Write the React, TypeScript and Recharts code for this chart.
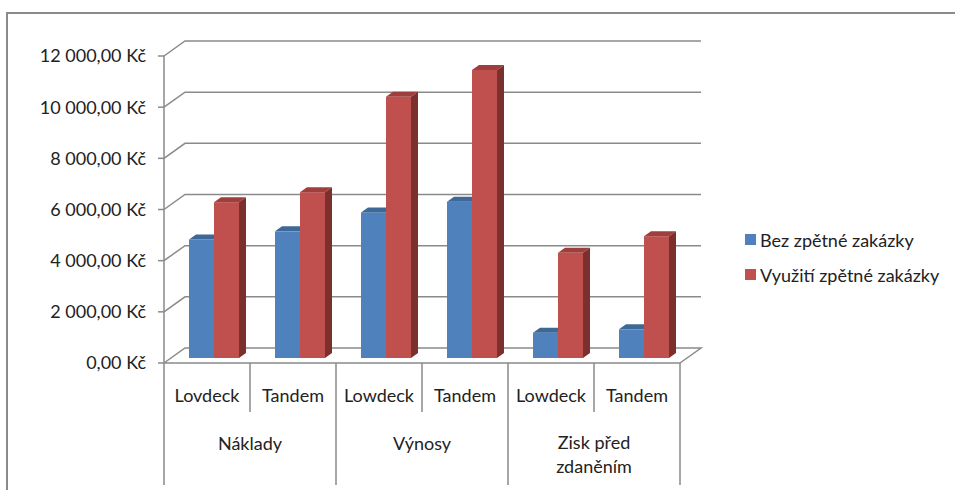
import React from 'react';
import { BarChart, Bar, XAxis, YAxis, CartesianGrid } from 'recharts';

// Subcategories (lower row of the category axis) and their groups (upper row)
const categories = ['Lovdeck', 'Tandem', 'Lowdeck', 'Tandem', 'Lowdeck', 'Tandem'];
const groups = [['Náklady'], ['Výnosy'], ['Zisk před', 'zdaněním']];

// Values (Kč)
const bezValues = [4630, 4950, 5690, 6110, 990, 1120];
const vyuzitiValues = [6090, 6480, 10210, 11260, 4110, 4760];
const yTicks = [0, 2000, 4000, 6000, 8000, 10000, 12000];

const seriesNames = ['Bez zpětné zakázky', 'Využití zpětné zakázky'];

const data = categories.map((name, i) => ({
  id: i,
  name,
  bez: bezValues[i],
  vyuziti: vyuzitiValues[i],
}));

const W = 955;
const H = 490;
const plotLeft = 164;
const plotRight = 680;
const plotTop = 56;
const plotBottom = 363;
const band = (plotRight - plotLeft) / categories.length;

// 3D offsets
const wallDx = 21;
const wallDy = 15;
const barDx = 7;
const barDy = 5;

const gridColor = '#8a8a8a';
const textColor = '#222';
const font = 'Lato, "Noto Sans", sans-serif';

const colors = {
  blue: { front: '#4f81bd', top: '#3e6897', side: '#385d8a' },
  red: { front: '#c0504d', top: '#9e3f3c', side: '#7c302e' },
};

const formatKc = (v: number) => {
  const s = Math.round(v).toString().replace(/\B(?=(\d{3})+(?!\d))/g, ' ');
  return `${s},00 Kč`;
};

const makeShape = (c: { front: string; top: string; side: string }) => (props: any) => {
  const { x, y, width, height } = props;
  if (!height || height <= 0) return <g />;
  const fx = x + barDx;
  const fy = y - barDy;
  const top = `${fx},${fy} ${fx + barDx},${fy - barDy} ${fx + width + barDx},${fy - barDy} ${fx + width},${fy}`;
  const side = `${fx + width},${fy} ${fx + width + barDx},${fy - barDy} ${fx + width + barDx},${fy + height - barDy} ${fx + width},${fy + height}`;
  return (
    <g>
      <rect x={fx} y={fy} width={width} height={height} fill={c.front} />
      <polygon points={top} fill={c.top} />
      <polygon points={side} fill={c.side} />
    </g>
  );
};

const gridLine = (props: any) => {
  const { x1, x2, y1 } = props;
  let d = `M${x1},${y1} L${x1 + wallDx},${y1 - wallDy} L${x2 + wallDx},${y1 - wallDy}`;
  if (Math.abs(y1 - plotBottom) < 1) d += ` L${x2},${y1}`;
  return <path key={`g-${y1}`} d={d} fill="none" stroke={gridColor} strokeWidth={1.5} />;
};

const CategoryTick = (props: any) => {
  const { x, index } = props;
  const left = x - band / 2;
  const isGroupStart = index % 2 === 0;
  const last = index === categories.length - 1;
  const g = groups[Math.floor(index / 2)];
  return (
    <g>
      <line x1={left} y1={plotBottom} x2={left} y2={isGroupStart ? 485 : 412} stroke={gridColor} strokeWidth={1.5} />
      {last && <line x1={left + band} y1={plotBottom} x2={left + band} y2={485} stroke={gridColor} strokeWidth={1.5} />}
      <text x={x} y={396} dy="0.35em" textAnchor="middle" fill={textColor} fontSize={18} fontFamily={font}>
        {categories[index]}
      </text>
      {isGroupStart &&
        g.map((line, k) => (
          <text
            key={k}
            x={left + band}
            y={g.length === 1 ? 444 : 443 + k * 24}
            dy="0.35em"
            textAnchor="middle"
            fill={textColor}
            fontSize={18}
            fontFamily={font}
          >
            {line}
          </text>
        ))}
    </g>
  );
};

const LegendBox = () => (
  <div style={{ position: 'absolute', left: 745, top: 222, fontFamily: font, fontSize: 18, color: textColor }}>
    {seriesNames.map((n, i) => (
      <div key={n} style={{ display: 'flex', alignItems: 'center', height: 35, whiteSpace: 'nowrap' }}>
        <span
          style={{
            display: 'inline-block',
            width: 11,
            height: 11,
            background: i === 0 ? colors.blue.front : colors.red.front,
            marginRight: 4,
          }}
        />
        <span>{n}</span>
      </div>
    ))}
  </div>
);

const App: React.FC = () => {
  return (
    <div style={{ position: 'absolute', left: 0, top: 0, width: W, height: H, overflow: 'hidden', background: '#fff' }}>
      <div
        style={{
          position: 'absolute',
          left: 6,
          top: 12,
          width: 1200,
          height: 800,
          border: `2px solid ${gridColor}`,
          boxSizing: 'border-box',
        }}
      />
      <div style={{ position: 'absolute', left: 0, top: 0 }}>
        <BarChart
          width={W}
          height={H}
          data={data}
          margin={{ top: plotTop, right: W - plotRight, bottom: 7, left: 14 }}
          barSize={25}
          barGap={0}
        >
          <CartesianGrid vertical={false} horizontal={gridLine} />
          <XAxis
            dataKey="id"
            height={120}
            interval={0}
            tickLine={false}
            axisLine={{ stroke: gridColor, strokeWidth: 1.5 }}
            tick={<CategoryTick />}
          />
          <YAxis
            width={150}
            domain={[0, 12000]}
            ticks={yTicks}
            tickFormatter={formatKc}
            tickSize={6}
            tickMargin={12}
            axisLine={{ stroke: gridColor, strokeWidth: 1.5 }}
            tickLine={{ stroke: gridColor, strokeWidth: 1.5 }}
            tick={{ fill: textColor, fontSize: 18, fontFamily: font }}
          />
          <Bar dataKey="bez" name={seriesNames[0]} isAnimationActive={false} shape={makeShape(colors.blue)} />
          <Bar dataKey="vyuziti" name={seriesNames[1]} isAnimationActive={false} shape={makeShape(colors.red)} />
        </BarChart>
      </div>
      <LegendBox />
    </div>
  );
};

export default App;
